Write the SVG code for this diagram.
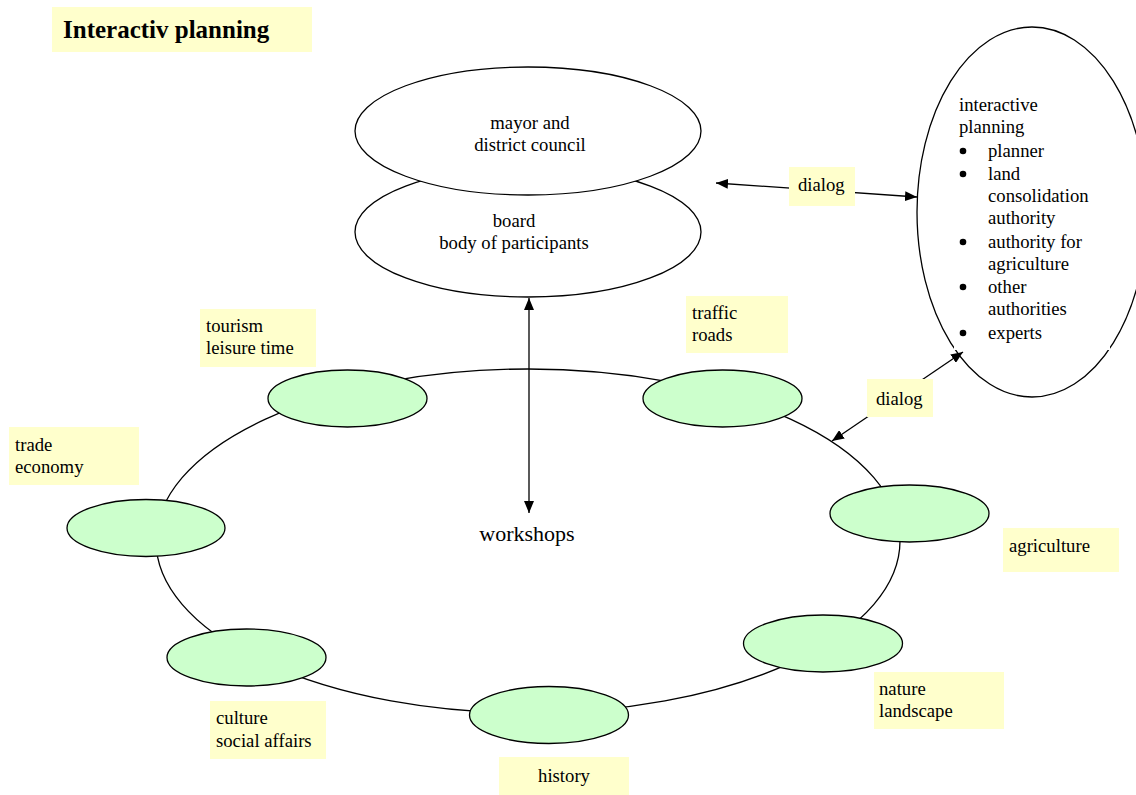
<svg xmlns="http://www.w3.org/2000/svg" width="1136" height="795" viewBox="0 0 1136 795">
<defs>
<style>
.t{font-family:"Liberation Serif","Times New Roman",serif;font-size:18.7px;fill:#000}
.lbl{fill:#ffffcc;stroke:none}
.green{fill:#ccffcc;stroke:#000;stroke-width:1.3}
.white{fill:#fff;stroke:#000;stroke-width:1.3}
.conn{stroke:#000;stroke-width:1.3;fill:none}
</style>
<marker id="ah" viewBox="0 0 12 10" refX="12" refY="5" markerWidth="12" markerHeight="10" markerUnits="userSpaceOnUse" orient="auto-start-reverse">
<path d="M0,0 L12,5 L0,10 z" fill="#000"/>
</marker>
</defs>
<rect width="1136" height="795" fill="#fff"/>

<g id="title">
<rect class="lbl" x="52" y="7" width="260" height="45"/>
<text x="63" y="38" style="font-family:'Liberation Serif','Times New Roman',serif;font-size:25px;font-weight:bold">Interactiv planning</text>
</g>

<g id="ring">
<ellipse cx="528" cy="541" rx="372" ry="172" fill="none" stroke="#000" stroke-width="1.3"/>
</g>

<g id="board">
<ellipse class="white" cx="528" cy="232" rx="173" ry="65"/>
<text class="t" x="514" y="227" text-anchor="middle">board</text>
<text class="t" x="514" y="249" text-anchor="middle">body of participants</text>
</g>

<g id="mayor">
<ellipse class="white" cx="528" cy="131" rx="173" ry="64"/>
<text class="t" x="530" y="129" text-anchor="middle">mayor and</text>
<text class="t" x="530" y="151" text-anchor="middle">district council</text>
</g>

<g id="interactive-planning">
<ellipse cx="1032" cy="212" rx="115" ry="185" fill="#fff" stroke="#000" stroke-width="1.3"/>
<rect x="954" y="86" width="156" height="264" fill="#fff"/>
<text class="t" x="959" y="111">interactive</text>
<text class="t" x="959" y="133">planning</text>
<circle cx="963" cy="151" r="3.3"/>
<text class="t" x="988" y="157">planner</text>
<circle cx="963" cy="174" r="3.3"/>
<text class="t" x="988" y="180">land</text>
<text class="t" x="988" y="202">consolidation</text>
<text class="t" x="988" y="224">authority</text>
<circle cx="963" cy="242" r="3.3"/>
<text class="t" x="988" y="248">authority for</text>
<text class="t" x="988" y="270">agriculture</text>
<circle cx="963" cy="287" r="3.3"/>
<text class="t" x="988" y="293">other</text>
<text class="t" x="988" y="315">authorities</text>
<circle cx="963" cy="333" r="3.3"/>
<text class="t" x="988" y="339">experts</text>
</g>

<g id="connectors">
<line class="conn" x1="716" y1="183" x2="917" y2="197" marker-start="url(#ah)" marker-end="url(#ah)"/>
<line class="conn" x1="963" y1="352" x2="832" y2="441" marker-start="url(#ah)" marker-end="url(#ah)"/>
<line class="conn" x1="529" y1="298" x2="529" y2="513" marker-start="url(#ah)" marker-end="url(#ah)"/>
</g>

<g id="dialog-1">
<rect class="lbl" x="789" y="167" width="66" height="39"/>
<text class="t" x="798" y="191">dialog</text>
</g>
<g id="dialog-2">
<rect class="lbl" x="867" y="379" width="66" height="38"/>
<text class="t" x="876" y="405">dialog</text>
</g>

<g id="workshops">
<text x="527" y="541" text-anchor="middle" style="font-family:'Liberation Serif','Times New Roman',serif;font-size:22px">workshops</text>
</g>

<g id="tourism">
<ellipse class="green" cx="347.5" cy="398.5" rx="79.5" ry="28.5"/>
<rect class="lbl" x="200" y="309" width="116" height="58"/>
<text class="t" x="206" y="332">tourism</text>
<text class="t" x="206" y="354">leisure time</text>
</g>

<g id="traffic">
<ellipse class="green" cx="722.5" cy="398.5" rx="79.5" ry="28.5"/>
<rect class="lbl" x="686" y="296" width="102" height="57"/>
<text class="t" x="692" y="319">traffic</text>
<text class="t" x="692" y="341">roads</text>
</g>

<g id="trade">
<ellipse class="green" cx="146" cy="528" rx="79" ry="28.5"/>
<rect class="lbl" x="9" y="427" width="130" height="58"/>
<text class="t" x="15" y="451">trade</text>
<text class="t" x="15" y="473">economy</text>
</g>

<g id="agriculture">
<ellipse class="green" cx="909.5" cy="513.5" rx="79.5" ry="28.5"/>
<rect class="lbl" x="1003" y="528" width="116" height="44"/>
<text class="t" x="1009" y="552">agriculture</text>
</g>

<g id="nature">
<ellipse class="green" cx="823" cy="643.5" rx="79.5" ry="28.5"/>
<rect class="lbl" x="874" y="672" width="130" height="57"/>
<text class="t" x="879" y="695">nature</text>
<text class="t" x="879" y="717">landscape</text>
</g>

<g id="culture">
<ellipse class="green" cx="246.5" cy="657.5" rx="79.5" ry="28.5"/>
<rect class="lbl" x="210" y="701" width="116" height="58"/>
<text class="t" x="216" y="724">culture</text>
<text class="t" x="216" y="747">social affairs</text>
</g>

<g id="history">
<ellipse class="green" cx="549" cy="715" rx="79.5" ry="28.5"/>
<rect class="lbl" x="499" y="757" width="130" height="38"/>
<text class="t" x="564" y="782" text-anchor="middle">history</text>
</g>
</svg>
